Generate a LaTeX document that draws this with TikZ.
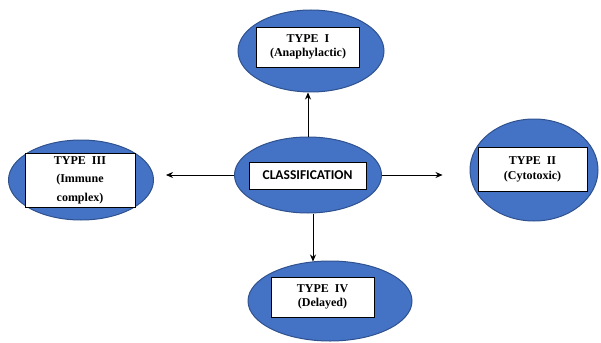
\documentclass[tikz,border=0pt]{standalone}
\usepackage{fontspec}
\setmainfont{Liberation Serif}
\newfontfamily\calib{Carlito}
\usetikzlibrary{arrows.meta,shapes.geometric}
\definecolor{ellfill}{HTML}{4472C4}
\definecolor{elldraw}{HTML}{2F528F}
\tikzset{
  ell/.style={ellipse, draw=elldraw, fill=ellfill, line width=1pt, inner sep=0pt},
  lbl/.style={draw=black, fill=white, line width=0.8pt, align=center, inner sep=0pt, font=\bfseries\fontsize{12}{13.5}\selectfont},
  conn/.style={-{Stealth[length=7pt,width=6pt]}, line width=0.7pt}
}
\begin{document}
\begin{tikzpicture}[x=1pt,y=-1pt]
\useasboundingbox (0,0) rectangle (601,342);
% ellipses
\node[ell, minimum width=146pt, minimum height=82pt] (top) at (311,51) {};
\node[ell, minimum width=145pt, minimum height=80pt] (left) at (81,180) {};
\node[ell, minimum width=147pt, minimum height=76pt] (cen) at (308,175) {};
\node[ell, minimum width=128pt, minimum height=102pt] (right) at (534,170) {};
\node[ell, minimum width=164pt, minimum height=80pt] (bot) at (330,301) {};
% labels
\node[lbl, minimum width=103pt, minimum height=40pt] (topl) at (308,47) {TYPE\enspace I\\(Anaphylactic)};
\node[lbl, minimum width=110pt, minimum height=54pt, font=\bfseries\fontsize{12}{18.5}\selectfont] (leftl) at (80,180) {TYPE\enspace III\\(Immune\\complex)};
\node[lbl, minimum width=117pt, minimum height=27pt, font=\calib\bfseries\fontsize{13.5}{15}\selectfont] (cenl) at (307.5,175.5) {CLASSIFICATION};
\node[lbl, minimum width=109pt, minimum height=44pt, font=\bfseries\fontsize{12}{15}\selectfont] (rightl) at (532.5,169) {TYPE\enspace II\\(Cytotoxic)};
\node[lbl, minimum width=103pt, minimum height=40pt] (botl) at (322.5,297) {TYPE\enspace IV\\(Delayed)};
% connectors
\draw[conn] (cen.north) -- (cen.north |- top.south);
\draw[conn] (cen.west) -- ([xshift=12pt]cen.west -| left.east);
\draw[conn] (cen.east) -- ([xshift=-27pt]cen.east -| right.west);
\draw[conn] ([xshift=5pt]cen.south) -- ([xshift=5pt,yshift=-1pt]cen.south |- bot.north);
\end{tikzpicture}
\end{document}
